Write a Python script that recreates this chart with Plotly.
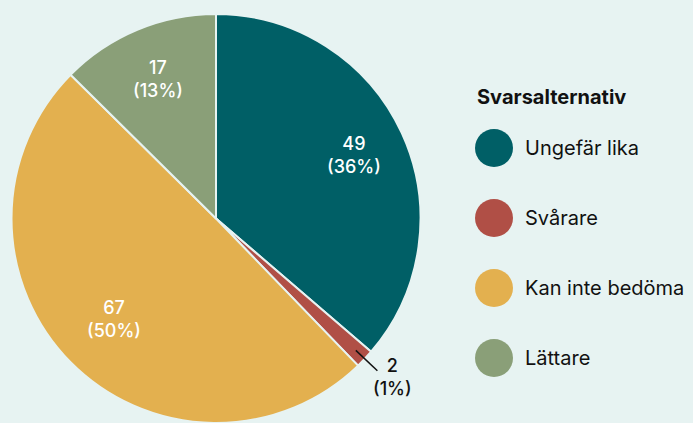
import math
import plotly.graph_objects as go

labels = ["Ungefär lika", "Svårare", "Kan inte bedöma", "Lättare"]
values = [49, 2, 67, 17]
percent_labels = ["36%", "1%", "50%", "13%"]
colors = ["#005f66", "#b04f46", "#e3b04f", "#8a9f78"]
legend_title = "Svarsalternativ"

BG = "#e7f3f2"
INK = "#111111"
W, H = 693, 423
MT, MB, ML, MR = 14, 0, 0, 0
PW, PH = W - ML - MR, H - MT - MB
FONT = "Inter, Roboto, sans-serif"

R = PH / 2
cx = 216
cy = MT + R
dom_x = [(cx - R - ML) / PW, (cx + R - ML) / PW]


def px_to_paper(px, py):
    return (px - ML) / PW, 1 - (py - MT) / PH


fig = go.Figure()
fig.add_trace(go.Pie(
    labels=labels, values=values, sort=False, direction="clockwise", rotation=0,
    marker=dict(colors=colors, line=dict(color=BG, width=2)),
    textinfo="none",
    hoverinfo="label+value+percent",
    domain=dict(x=dom_x, y=[0, 1]),
    showlegend=False,
))

total = sum(values)
cum = 0
shapes = []
annotations = []
for v, p in zip(values, percent_labels):
    mid = (cum + v / 2) / total * 2 * math.pi
    cum += v
    s, c = math.sin(mid), math.cos(mid)
    if v / total < 0.03:
        x0, y0 = px_to_paper(cx + 0.94 * R * s, cy - 0.94 * R * c)
        x1, y1 = px_to_paper(cx + 1.085 * R * s, cy - 1.085 * R * c)
        shapes.append(dict(type="line", xref="paper", yref="paper",
                           x0=x0, y0=y0, x1=x1, y1=y1,
                           line=dict(color=INK, width=1.5)))
        tx, ty = px_to_paper(cx + 1.085 * R * s + 15, cy - 1.085 * R * c + 6)
        annotations.append(dict(xref="paper", yref="paper", x=tx, y=ty,
                                text=f"{v}<br>({p})", showarrow=False,
                                xanchor="center", yanchor="middle",
                                font=dict(family=FONT, size=18, color=INK, weight=500)))
    else:
        frac = 0.74 if v / total < 0.45 else 0.70
        tx, ty = px_to_paper(cx + frac * R * s, cy - frac * R * c)
        annotations.append(dict(xref="paper", yref="paper", x=tx, y=ty,
                                text=f"{v}<br>({p})", showarrow=False,
                                xanchor="center", yanchor="middle",
                                font=dict(family=FONT, size=18, color="white", weight=500)))

# legend with round markers
lx, ly0, step = 494, 148, 70
tx0 = 523
annotations.append(dict(xref="paper", yref="paper",
                        x=px_to_paper(475, 0)[0], y=px_to_paper(0, 97)[1],
                        text=f"<b>{legend_title}</b>", showarrow=False,
                        xanchor="left", yanchor="middle",
                        font=dict(family=FONT, size=20, color=INK)))
for i, (lab, col) in enumerate(zip(labels, colors)):
    yy = ly0 + i * step
    x0, y0 = px_to_paper(lx - 19, yy - 19)
    x1, y1 = px_to_paper(lx + 19, yy + 19)
    shapes.append(dict(type="circle", xref="paper", yref="paper",
                       x0=x0, y0=y1, x1=x1, y1=y0,
                       fillcolor=col, line=dict(width=0)))
    ax, ay = px_to_paper(tx0, yy)
    annotations.append(dict(xref="paper", yref="paper", x=ax, y=ay,
                            text=lab, showarrow=False,
                            xanchor="left", yanchor="middle",
                            font=dict(family=FONT, size=20, color=INK)))

fig.update_layout(
    width=W, height=H,
    margin=dict(t=MT, b=MB, l=ML, r=MR),
    paper_bgcolor=BG, plot_bgcolor=BG,
    shapes=shapes, annotations=annotations,
    font=dict(family=FONT),
)
fig.write_html("out.html", config={"displayModeBar": False},
               post_script="document.body.style.margin='0px';document.body.style.overflow='hidden';")
